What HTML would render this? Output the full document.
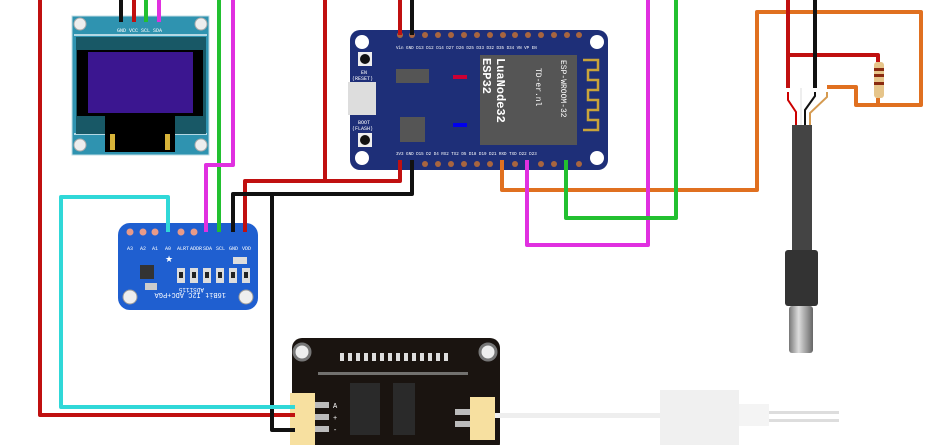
<!DOCTYPE html>
<html><head><meta charset="utf-8"><style>
html,body{margin:0;padding:0;background:#fff;width:951px;height:445px;overflow:hidden}
text{font-family:"Liberation Mono",monospace}
</style></head><body>
<svg width="951" height="445" viewBox="0 0 951 445" xmlns="http://www.w3.org/2000/svg">
<rect width="951" height="445" fill="#fff"/>
<!-- OLED -->
<rect x="72" y="16" width="137" height="139" fill="#2f93b0"/>
<rect x="72" y="16" width="137" height="139" fill="none" stroke="#bfdde6" stroke-width="1"/>
<line x1="74" y1="35" x2="207" y2="35" stroke="#e0f0f5" stroke-width="1.5"/>
<line x1="74" y1="134" x2="207" y2="134" stroke="#e0f0f5" stroke-width="1.5"/>
<rect x="76" y="37" width="130" height="97" fill="#185866"/>
<rect x="77" y="50" width="126" height="66" fill="#000"/>
<rect x="88" y="52" width="105" height="61" fill="#3b1690"/>
<rect x="105" y="116" width="70" height="36" fill="#000"/>
<rect x="110" y="134" width="5" height="16" fill="#d8b43a"/>
<rect x="165" y="134" width="5" height="16" fill="#d8b43a"/>
<circle cx="80" cy="24" r="6" fill="#eee" stroke="#aaa"/><circle cx="201" cy="24" r="6" fill="#eee" stroke="#aaa"/>
<circle cx="80" cy="145" r="6" fill="#eee" stroke="#aaa"/><circle cx="201" cy="145" r="6" fill="#eee" stroke="#aaa"/>
<text x="117" y="32" font-size="5" fill="#fff">GND VCC SCL SDA</text>
<!-- ADS -->
<rect x="118" y="223" width="140" height="87" rx="12" fill="#1f5fd0"/>
<g fill="#e89a88"><circle cx="130" cy="232" r="3.5"/><circle cx="143" cy="232" r="3.5"/><circle cx="155" cy="232" r="3.5"/><circle cx="181" cy="232" r="3.5"/><circle cx="194" cy="232" r="3.5"/></g>
<g font-size="5" fill="#fff"><text x="127" y="250">A3</text><text x="140" y="250">A2</text><text x="152" y="250">A1</text><text x="165" y="250">A0</text><text x="177" y="250">ALRT</text><text x="190" y="250">ADDR</text><text x="203" y="250">SDA</text><text x="216" y="250">SCL</text><text x="229" y="250">GND</text><text x="242" y="250">VDD</text></g>
<rect x="140" y="265" width="14" height="14" fill="#333"/>
<rect x="145" y="283" width="12" height="7" fill="#ccc"/>
<g fill="#ddd"><rect x="177" y="268" width="8" height="15"/><rect x="190" y="268" width="8" height="15"/><rect x="203" y="268" width="8" height="15"/><rect x="216" y="268" width="8" height="15"/><rect x="229" y="268" width="8" height="15"/><rect x="242" y="268" width="8" height="15"/><rect x="233" y="257" width="14" height="7"/></g>
<g fill="#222"><rect x="179" y="272" width="4" height="6"/><rect x="192" y="272" width="4" height="6"/><rect x="205" y="272" width="4" height="6"/><rect x="218" y="272" width="4" height="6"/><rect x="231" y="272" width="4" height="6"/><rect x="244" y="272" width="4" height="6"/></g>
<text x="165" y="262" font-size="9" fill="#fff">★</text>
<circle cx="130" cy="297" r="7" fill="#eee" stroke="#999"/><circle cx="246" cy="297" r="7" fill="#eee" stroke="#999"/>
<text x="150" y="307" font-size="7" fill="#fff" transform="rotate(180 188 300)">16Bit I2C ADC+PGA</text>
<text x="172" y="296" font-size="6" fill="#fff" transform="rotate(180 188 292)">ADS1115</text>
<!-- ESP32 -->
<rect x="350" y="30" width="258" height="140" rx="10" fill="#1e2f78"/>
<rect x="348" y="82" width="28" height="33" fill="#ddd"/>
<rect x="358" y="52" width="14" height="14" fill="#eee"/><circle cx="365" cy="59" r="5" fill="#111"/>
<rect x="358" y="133" width="14" height="14" fill="#eee"/><circle cx="365" cy="140" r="5" fill="#111"/>
<circle cx="362" cy="42" r="7" fill="#fff"/><circle cx="362" cy="158" r="7" fill="#fff"/><circle cx="597" cy="42" r="7" fill="#fff"/><circle cx="597" cy="158" r="7" fill="#fff"/>
<text x="361" y="74" font-size="5" fill="#fff">EN</text><text x="352" y="80" font-size="5" fill="#fff">(RESET)</text>
<text x="358" y="124" font-size="5" fill="#fff">BOOT</text><text x="352" y="130" font-size="5" fill="#fff">(FLASH)</text>
<rect x="396" y="69" width="33" height="14" fill="#555"/>
<rect x="400" y="117" width="25" height="25" fill="#555"/>
<rect x="453" y="75" width="14" height="4" fill="#c03"/><rect x="453" y="123" width="14" height="4" fill="#00e"/>
<rect x="480" y="55" width="97" height="90" fill="#555"/>
<path d="M583 60h15v10h-10v10h10v10h-10v10h10v10h-10v10h10v10h-15" fill="none" stroke="#c9a43a" stroke-width="2.5"/>
<g fill="#fff" font-size="12" font-weight="bold"><text transform="translate(483 58) rotate(90)">ESP32</text><text transform="translate(497 58) rotate(90)">LuaNode32</text></g>
<g fill="#fff" font-size="8"><text transform="translate(536 68) rotate(90)">TD-er.nl</text><text transform="translate(561 60) rotate(90)">ESP-WROOM-32</text></g>
<g fill="#a8653f"><circle cx="400" cy="35" r="3"/><circle cx="412" cy="35" r="3"/><circle cx="425" cy="35" r="3"/><circle cx="438" cy="35" r="3"/><circle cx="451" cy="35" r="3"/><circle cx="464" cy="35" r="3"/><circle cx="477" cy="35" r="3"/><circle cx="490" cy="35" r="3"/><circle cx="503" cy="35" r="3"/><circle cx="515" cy="35" r="3"/><circle cx="528" cy="35" r="3"/><circle cx="541" cy="35" r="3"/><circle cx="554" cy="35" r="3"/><circle cx="567" cy="35" r="3"/><circle cx="579" cy="35" r="3"/>
<circle cx="425" cy="164" r="3"/><circle cx="438" cy="164" r="3"/><circle cx="451" cy="164" r="3"/><circle cx="464" cy="164" r="3"/><circle cx="477" cy="164" r="3"/><circle cx="490" cy="164" r="3"/><circle cx="515" cy="164" r="3"/><circle cx="541" cy="164" r="3"/><circle cx="554" cy="164" r="3"/><circle cx="579" cy="164" r="3"/></g>
<text x="396" y="49" font-size="4.2" fill="#fff">Vin GND D13 D12 D14 D27 D26 D25 D33 D32 D35 D34 VN VP EN</text>
<text x="396" y="155" font-size="4.2" fill="#fff">3V3 GND D15 D2 D4 RX2 TX2 D5 D18 D19 D21 RXD TXD D22 D23</text>
<!-- Probe board -->
<rect x="292" y="338" width="208" height="115" rx="10" fill="#1a1410"/>
<circle cx="302" cy="352" r="8" fill="#eee" stroke="#777" stroke-width="3"/><circle cx="488" cy="352" r="8" fill="#eee" stroke="#777" stroke-width="3"/>
<g fill="#ddd"><rect x="340" y="353" width="4" height="8"/><rect x="348" y="353" width="4" height="8"/><rect x="356" y="353" width="4" height="8"/><rect x="364" y="353" width="4" height="8"/><rect x="372" y="353" width="4" height="8"/><rect x="380" y="353" width="4" height="8"/><rect x="388" y="353" width="4" height="8"/><rect x="396" y="353" width="4" height="8"/><rect x="404" y="353" width="4" height="8"/><rect x="412" y="353" width="4" height="8"/><rect x="420" y="353" width="4" height="8"/><rect x="428" y="353" width="4" height="8"/><rect x="436" y="353" width="4" height="8"/><rect x="444" y="353" width="4" height="8"/></g>
<rect x="318" y="372" width="150" height="3" fill="#999" opacity=".7"/>
<rect x="350" y="383" width="30" height="52" fill="#2a2a2a"/><rect x="393" y="383" width="22" height="52" fill="#2a2a2a"/>
<rect x="290" y="393" width="25" height="52" fill="#f7e0a0"/>
<g fill="#bbb"><rect x="315" y="402" width="14" height="6"/><rect x="315" y="414" width="14" height="6"/><rect x="315" y="426" width="14" height="6"/><rect x="455" y="409" width="15" height="6"/><rect x="455" y="421" width="15" height="6"/></g>
<g font-size="7" fill="#fff"><text x="333" y="408">A</text><text x="333" y="420">+</text><text x="333" y="432">-</text></g>
<rect x="470" y="397" width="25" height="43" fill="#f7e0a0"/>
<rect x="495" y="413" width="165" height="5" fill="#eee"/>
<rect x="660" y="390" width="79" height="55" fill="#f0f0f0"/>
<rect x="739" y="404" width="30" height="22" fill="#f4f4f4"/>
<rect x="769" y="411" width="70" height="3" fill="#ddd"/><rect x="769" y="419" width="70" height="3" fill="#ddd"/>
<!-- Temp sensor -->
<rect x="792" y="125" width="20" height="130" fill="#444"/>
<rect x="785" y="250" width="33" height="56" rx="3" fill="#333"/>
<defs><linearGradient id="st" x1="0" x2="1"><stop offset="0" stop-color="#777"/><stop offset=".4" stop-color="#ddd"/><stop offset="1" stop-color="#666"/></linearGradient></defs>
<rect x="789" y="306" width="24" height="47" rx="3" fill="url(#st)"/>
<path d="M788 92v8l8 12v13" fill="none" stroke="#c00" stroke-width="2"/>
<path d="M801 88v37" fill="none" stroke="#eee" stroke-width="2"/>
<path d="M815 92v4l-10 14v15" fill="none" stroke="#111" stroke-width="2"/>
<path d="M827 92v5l-17 16v12" fill="none" stroke="#d59a50" stroke-width="2"/>
<rect x="874" y="62" width="10" height="36" rx="3" fill="#e6c58a"/>
<g fill="#8a2a10"><rect x="874" y="68" width="10" height="3"/><rect x="874" y="74" width="10" height="3"/><rect x="874" y="82" width="10" height="3"/></g>
<!-- wires -->
<g fill="none" stroke-width="4" stroke-linejoin="round">
<path d="M40 0V415H295" stroke="#c01010"/>
<path d="M325 0V181M245 232V181H400V160" stroke="#c01010"/>
<path d="M400 0V35" stroke="#c01010"/>
<path d="M412 0V35" stroke="#111"/>
<path d="M412 160V194H233V232M272 194V430H295" stroke="#111"/>
<path d="M121 0V22" stroke="#111"/><path d="M134 0V22" stroke="#c01010"/>
<path d="M146 0V22" stroke="#22c030"/><path d="M159 0V22" stroke="#e030e0"/>
<path d="M219 0V232" stroke="#22c030"/>
<path d="M233 0V165H206V232" stroke="#e030e0"/>
<path d="M168 232V197H61V407H295" stroke="#30d8d8"/>
<path d="M502 160V190H757V12H921V105H856V87H827" stroke="#e07020"/>
<path d="M527 160V245H648V0" stroke="#e030e0"/>
<path d="M566 160V218H676V0" stroke="#22c030"/>
<path d="M788 0V88M788 55H878V62" stroke="#c01010"/>
<path d="M815 0V88" stroke="#111"/>
<path d="M878 98V105" stroke="#e07020"/>
</g>
</svg>
</body></html>
